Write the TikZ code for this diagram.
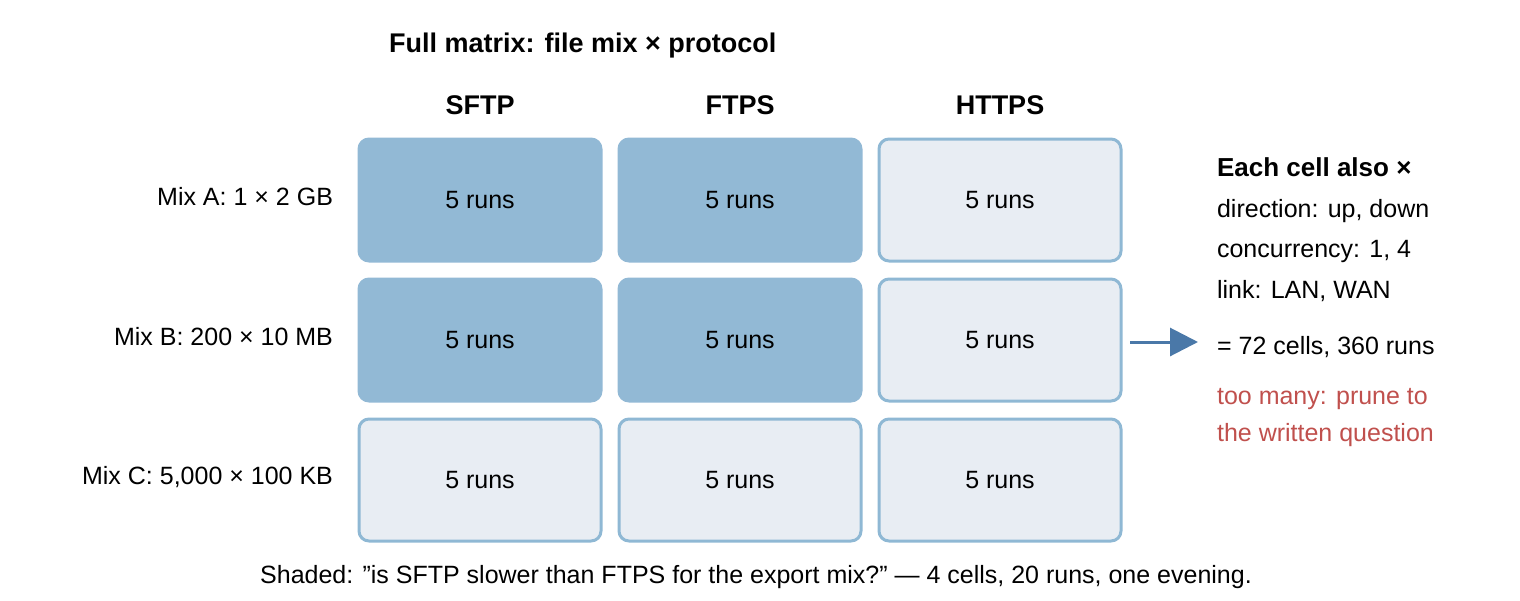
\documentclass[tikz,border=0pt]{standalone}
\usepackage{fontspec}
\setmainfont{Liberation Sans}
\usetikzlibrary{positioning,arrows.meta}
\definecolor{shade}{HTML}{92B9D5}
\definecolor{pale}{HTML}{E8EDF3}
\definecolor{edge}{HTML}{8FB8D4}
\definecolor{arrowblue}{HTML}{4A78A8}
\definecolor{warn}{HTML}{C0504D}
\tikzset{>=stealth,
  cellon/.style={draw=shade,fill=shade,line width=1.5pt,rounded corners=5pt,minimum width=121pt,minimum height=61pt,font=\fontsize{12.5}{14}\selectfont},
  celloff/.style={cellon,draw=edge,fill=pale},
  colhead/.style={font=\fontsize{13.5}{15}\selectfont\bfseries},
  rowhead/.style={anchor=east,font=\fontsize{12.5}{14}\selectfont},
  note/.style={anchor=west,font=\fontsize{12.5}{14}\selectfont}}

\begin{document}
\begin{tikzpicture}[x=0.5pt,y=-0.5pt]
\useasboundingbox (0,0) rectangle (1520,600);
\node[colhead,anchor=west] (title) at (382,46) {Full matrix: file mix × protocol};
% column heads
\node[colhead] (sftp) at (480,105) {SFTP};
\node[colhead] (ftps) at (740,105) {FTPS};
\node[colhead] (https) at (1000,105) {HTTPS};
% row heads
\node[rowhead] (mixa) at (340,197) {Mix A: 1 × 2 GB};
\node[rowhead] (mixb) at (340,337) {Mix B: 200 × 10 MB};
\node[rowhead] (mixc) at (340,477) {Mix C: 5,000 × 100 KB};
% cells
\foreach \r/\y/\sa/\sb in {a/200/cellon/cellon,b/340/cellon/cellon,c/480/celloff/celloff}{
  \node[\sa] (cell\r1) at (480,\y) {5 runs};
  \node[\sb] (cell\r2) at (740,\y) {5 runs};
  \node[celloff] (cell\r3) at (1000,\y) {5 runs};
}
% arrow to summary
\coordinate (tail) at (1130,342);
\coordinate (head) at (1198,342);
\draw[arrowblue,line width=1.5pt,-{Triangle[length=14pt,width=14pt]}] (tail) -- (head);
\node[note,font=\fontsize{13}{15}\selectfont\bfseries] (also) at (1210,167) {Each cell also ×};
\node[note] (dir) at (1210,211) {direction: up, down};
\node[note] (conc) at (1210,251) {concurrency: 1, 4};
\node[note] (link) at (1210,291) {link: LAN, WAN};
\node[note] (total) at (1210,347) {= 72 cells, 360 runs};
\node[note,text=warn] (warn1) at (1210,399) {too many: prune to};
\node[note,text=warn] (warn2) at (1210,435) {the written question};
\node[font=\fontsize{12.5}{14}\selectfont] (foot) at (756,577) {Shaded: \symbol{34}is SFTP slower than FTPS for the export mix?\symbol{34} — 4 cells, 20 runs, one evening.};
\end{tikzpicture}
\end{document}
